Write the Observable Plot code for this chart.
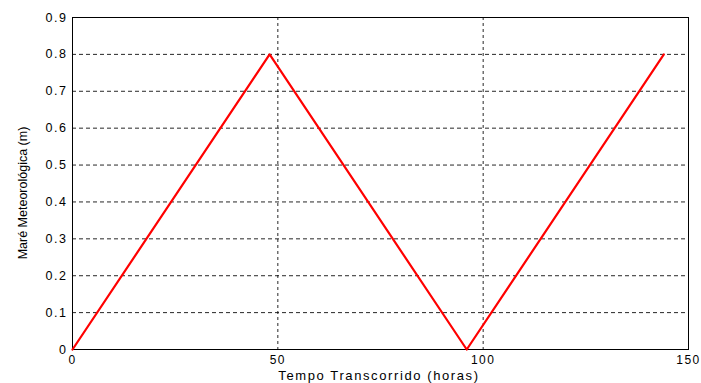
<!DOCTYPE html>
<html>
<head>
<meta charset="utf-8">
<script src="https://cdn.jsdelivr.net/npm/d3@7"></script>
<script src="https://cdn.jsdelivr.net/npm/@observablehq/plot@0.6"></script>
<style>
  html, body { margin: 0; padding: 0; background: #fff; }
  svg { display: block; }
</style>
</head>
<body>
<div id="chart"></div>
<script>
const hours = [0, 48, 96, 144];
const surge = [0, 0.8, 0, 0.8];
const xTicks = [0, 50, 100, 150];
const yTicks = [0, 0.1, 0.2, 0.3, 0.4, 0.5, 0.6, 0.7, 0.8, 0.9];
const yGrid = [0.1, 0.2, 0.3, 0.4, 0.5, 0.6, 0.7, 0.8];
const xGrid = [50, 100];
const xLabel = "Tempo Transcorrido (horas)";
const yLabel = "Maré Meteorológica (m)";

const data = hours.map((h, i) => ({h, v: surge[i]}));

const chart = Plot.plot({
  width: 701,
  height: 383,
  marginLeft: 72,
  marginRight: 13,
  marginTop: 17,
  marginBottom: 34,
  style: {fontFamily: "'Liberation Sans', Arial, sans-serif", background: "#fff", color: "#000"},
  x: {domain: [0, 150]},
  y: {domain: [0, 0.9]},
  marks: [
    Plot.gridY(yGrid, {stroke: "#000", strokeOpacity: 0.85, strokeDasharray: "4,3", strokeWidth: 1}),
    Plot.gridX(xGrid, {stroke: "#000", strokeOpacity: 0.85, strokeDasharray: "3,3", strokeWidth: 1}),
    Plot.axisY(yTicks, {tickSize: 0, tickPadding: 5, fontSize: 12.5, tickFormat: d => String(d), label: null, style: "letter-spacing: 1.5px"}),
    Plot.axisX(xTicks, {tickSize: 0, tickPadding: 6, fontSize: 12, tickFormat: d => String(d), label: null}),
    Plot.frame({stroke: "#000", strokeWidth: 1}),
    Plot.line(data, {x: "h", y: "v", stroke: "#ff0000", strokeWidth: 2.2})
  ]
});

const svg = d3.select(chart);
svg.selectAll("[aria-label='x-axis tick label'] text, [aria-label='y-axis tick label'] text").attr("letter-spacing", "1.5px");
svg.append("text")
  .attr("x", 379).attr("y", 380)
  .attr("text-anchor", "middle")
  .attr("font-size", 13)
  .attr("letter-spacing", "1.6px")
  .attr("font-family", "'Liberation Sans', Arial, sans-serif")
  .text(xLabel);
svg.append("text")
  .attr("transform", "translate(27,193) rotate(-90)")
  .attr("text-anchor", "middle")
  .attr("font-size", 12.5)
  .attr("font-family", "'Liberation Sans', Arial, sans-serif")
  .attr("transform-origin", null)
  .text(yLabel);
document.getElementById("chart").appendChild(chart);
</script>
</body>
</html>
